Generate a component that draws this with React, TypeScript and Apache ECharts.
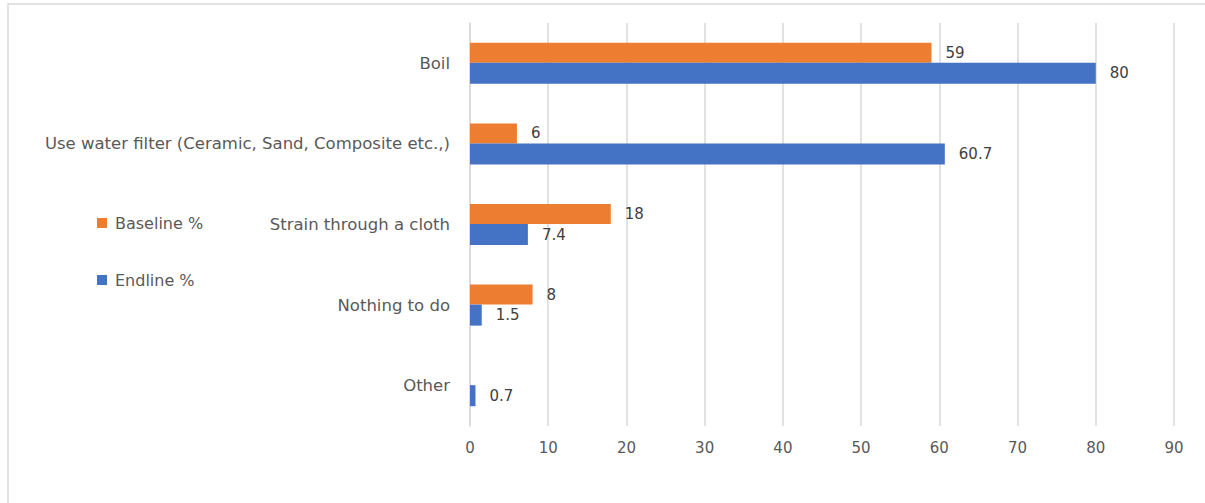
import React, { useEffect, useRef } from "react";
import * as echarts from "echarts";

const categories = [
  "Boil",
  "Use water filter (Ceramic, Sand, Composite etc.,)",
  "Strain through a cloth",
  "Nothing to do",
  "Other",
];
const baseline: (number | null)[] = [59, 6, 18, 8, null];
const endline: number[] = [80, 60.7, 7.4, 1.5, 0.7];
const seriesNames = ["Baseline %", "Endline %"];
const xTicks = { min: 0, max: 90, interval: 10 };

const FONT = "'DejaVu Sans', sans-serif";

export default function App() {
  const ref = useRef<HTMLDivElement>(null);
  useEffect(() => {
    document.body.style.margin = "0";
    const chart = echarts.init(ref.current!, null, { renderer: "svg" });
    const label = {
      show: true,
      position: "right",
      distance: 14,
      color: "#404040",
      fontSize: 15,
      fontFamily: FONT,
    };
    chart.setOption({
      animation: false,
      backgroundColor: "#ffffff",
      graphic: [
        {
          type: "rect",
          shape: { x: 8, y: 4, width: 1400, height: 700 },
          style: { fill: "none", stroke: "#D9D9D9", lineWidth: 1.5 },
          silent: true,
        },
      ],
      legend: {
        orient: "vertical",
        left: 97,
        top: 215,
        padding: 0,
        itemWidth: 10,
        itemHeight: 10,
        itemGap: 41,
        icon: "rect",
        textStyle: {
          color: "#595959",
          fontSize: 16,
          fontFamily: FONT,
          padding: [0, 0, 0, 3],
        },
        data: seriesNames,
      },
      grid: { left: 470, right: 31, top: 23, bottom: 77, containLabel: false },
      xAxis: {
        type: "value",
        min: xTicks.min,
        max: xTicks.max,
        interval: xTicks.interval,
        axisLine: { show: false },
        axisTick: { show: false },
        splitLine: { show: true, lineStyle: { color: "#D9D9D9", width: 1.5 } },
        axisLabel: { color: "#595959", fontSize: 15, fontFamily: FONT, margin: 14 },
      },
      yAxis: {
        type: "category",
        inverse: true,
        data: categories,
        axisLine: { show: true, lineStyle: { color: "#D9D9D9", width: 1.5 } },
        axisTick: { show: false },
        axisLabel: { color: "#595959", fontSize: 16.5, fontFamily: FONT, margin: 20 },
      },
      series: [
        {
          name: seriesNames[0],
          type: "bar",
          data: baseline,
          barWidth: 20,
          barGap: "0%",
          itemStyle: { color: "#ED7D31" },
          label,
        },
        {
          name: seriesNames[1],
          type: "bar",
          data: endline,
          barWidth: 21,
          barGap: "0%",
          itemStyle: { color: "#4472C4" },
          label,
        },
      ],
    });
    return () => chart.dispose();
  }, []);
  return <div ref={ref} style={{ width: 1205, height: 503 }} />;
}
